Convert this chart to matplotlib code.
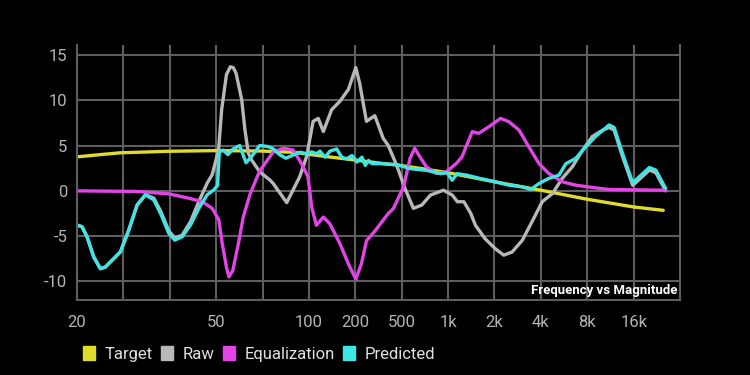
import numpy as np
import matplotlib
matplotlib.use('Agg')
import matplotlib.pyplot as plt
from matplotlib.patches import Patch
from matplotlib.ticker import FixedLocator, NullFormatter

plt.rcParams['font.family'] = ['Roboto', 'DejaVu Sans']
plt.rcParams['axes.unicode_minus'] = False

# frequency axis of the app: labelled stops, not evenly spaced in log
knot_hz = [20, 50, 100, 200, 500, 1000, 2000, 4000, 8000, 16000, 32000]
knot_pos = [0, 3, 5, 6, 7, 8, 9, 10, 11, 12, 13]
tick_hz = [20, 50, 100, 200, 500, 1000, 2000, 4000, 8000, 16000]
tick_labels = ['20', '50', '100', '200', '500', '1k', '2k', '4k', '8k', '16k']

target_hz = [20, 23.3, 26.6, 36.8, 50, 69.2, 88.9, 130, 200, 305, 500, 707, 1000, 2000,
             4000, 8000, 16000, 24900]
target_db = [3.75, 4.0, 4.2, 4.37, 4.44, 4.4, 4.26, 3.78, 3.4, 3.1, 2.78, 2.4, 2.0, 1.0,
             0.07, -0.93, -1.78, -2.15]

raw_hz = [20, 20.67, 21.36, 22.33, 23.33, 24.11, 25.19, 26.61, 28.12, 29.71, 31.38, 33.16,
          34.65, 36.6, 38.07, 39.96, 42.22, 44.6, 47.12, 48.7, 50.9, 52.1, 54.0, 55.6, 56.8,
          58.0, 60.5, 62.0, 63.6, 65.2, 69.2, 74.7, 76.6, 84.7, 93.3, 98.3, 106.4, 114.9,
          124.0, 140.4, 159.1, 180.3, 201.8, 217.7, 249.2, 293.9, 346.6, 383.3, 453, 525, 595,
          675, 768, 933, 1064, 1149, 1266, 1404, 1505, 1741, 2028, 2297, 2603, 3031, 3506,
          4084, 4757, 5502, 6408, 7464, 8634, 10056, 11082, 11956, 13545, 15779, 17387,
          20248, 22311, 25804]
raw_db = [-3.78, -3.96, -5.07, -7.3, -8.6, -8.4, -7.67, -6.74, -4.33, -1.56, -0.44, -0.8,
          -2.2, -4.4, -5.2, -4.9, -3.4, -1.19, 0.85, 1.78, 4.5, 9.0, 12.85, 13.7, 13.6, 13.0,
          10.07, 6.7, 4.15, 3.4, 2.1, 1.2, 0.8, -1.3, 1.55, 3.8, 7.67, 8.0, 6.55, 8.96, 9.9,
          11.2, 13.6, 11.9, 7.67, 8.3, 5.8, 5.0, 2.8, 0.26, -1.93, -1.57, -0.47, 0.07, -0.47,
          -1.2, -1.2, -2.5, -3.8, -5.3, -6.4, -7.1, -6.75, -5.46, -3.4, -1.2, -0.3, 1.37,
          2.66, 4.5, 6.0, 6.7, 7.0, 6.7, 3.8, 0.6, 1.25, 2.3, 2.0, 0.0]

eq_hz = [20, 29.7, 36.6, 41.7, 45.6, 48.7, 51.0, 52.3, 54.0, 55.0, 56.6, 59.0, 61.2, 64.5,
         69.2, 74.7, 76.6, 82.8, 88.9, 94.6, 99.3, 104.2, 111.7, 124.0, 136.6, 159.1, 180.3,
         201.8, 225.3, 249.2, 293.9, 383.3, 423.9, 514, 566.5, 607, 655, 722, 835, 973, 1133,
         1231, 1434, 1580, 1840, 2188, 2480, 2888, 3340, 3891, 4501, 5502, 6727, 8634, 11082,
         25804]
eq_db = [0.0, -0.07, -0.33, -0.81, -1.19, -1.93, -3.2, -5.8, -8.44, -9.5, -8.8, -5.85, -2.9,
         -0.3, 2.2, 3.78, 4.33, 4.7, 4.5, 3.0, 1.55, -1.78, -3.8, -2.9, -3.63, -5.85, -8.07,
         -9.74, -8.07, -5.5, -4.45, -2.5, -1.96, 0.44, 3.6, 4.7, 3.78, 2.67, 1.93, 2.1, 3.04,
         3.76, 6.53, 6.35, 7.08, 8.0, 7.64, 6.7, 4.87, 3.0, 1.92, 1.0, 0.63, 0.37, 0.15, 0.07]

pred_hz = [20, 20.67, 21.36, 22.33, 23.33, 24.11, 25.19, 26.61, 28.12, 29.71, 31.38, 33.16,
           34.65, 36.6, 38.07, 39.96, 42.22, 44.6, 47.12, 49.24, 50.5, 51.2, 52.6, 54.6, 56.6,
           59.6, 62.5, 65.2, 69.2, 73.4, 76.2, 80.3, 84.1, 93.5, 98.3, 104.1, 112.1, 117.8,
           127.0, 136.9, 151.3, 163.1, 175.7, 190.3, 206.7, 228.0, 243.3, 259.9, 277.4, 326.8,
           453.2, 566.8, 728.7, 891, 985, 1062, 1146, 1332, 1628, 2028, 2480, 3031, 3434,
           3891, 4501, 5241, 5815, 6727, 7837, 9063, 11082, 11956, 13545, 15779, 17387,
           20248, 22311, 25804]
pred_db = [-3.78, -3.96, -5.07, -7.3, -8.6, -8.4, -7.67, -6.74, -4.33, -1.56, -0.44, -1.0,
           -2.48, -4.7, -5.44, -5.07, -3.78, -1.93, -0.44, 0.11, 0.6, 4.3, 4.5, 4.0, 4.6, 5.0,
           3.1, 3.8, 5.0, 4.9, 4.7, 4.0, 3.6, 4.27, 4.1, 4.3, 4.1, 4.38, 3.72, 4.38, 4.63,
           3.72, 3.54, 3.9, 3.18, 3.72, 2.8, 3.36, 3.0, 3.0, 2.9, 2.45, 2.26, 1.9, 2.0, 1.17,
           1.9, 1.72, 1.35, 1.0, 0.63, 0.44, 0.15, 0.81, 1.37, 1.73, 3.0, 3.58, 4.87, 6.0,
           7.27, 7.0, 4.13, 0.89, 1.55, 2.58, 2.29, 0.26]

series = [('Target', target_hz, target_db, '#e0dc2c'),
          ('Raw', raw_hz, raw_db, '#b8b8b8'),
          ('Equalization', eq_hz, eq_db, '#e244e6'),
          ('Predicted', pred_hz, pred_db, '#3fe4e4')]

log_knots = np.log10(knot_hz)


def fwd(f):
    f = np.clip(np.asarray(f, dtype=float), 1e-3, None)
    return np.interp(np.log10(f), log_knots, knot_pos)


def inv(p):
    return 10 ** np.interp(np.asarray(p, dtype=float), knot_pos, log_knots)


grid_c = '#5e5e5e'
fig = plt.figure(figsize=(7.5, 3.75), dpi=100, facecolor='black')
ax = fig.add_axes([0.1027, 0.2, 0.804, 0.68], facecolor='black')
ax.set_xscale('function', functions=(fwd, inv))

for name, hz, db, col in series:
    ax.plot(hz, db, color=col, lw=2.4, solid_joinstyle='round', solid_capstyle='round')

ax.set_xlim(20, 32000)
ax.set_ylim(-12.05, 16.1)

ax.xaxis.set_major_locator(FixedLocator(tick_hz))
ax.set_xticklabels(tick_labels)
ax.xaxis.set_minor_locator(FixedLocator(inv([1, 2, 4])))
ax.xaxis.set_minor_formatter(NullFormatter())
ax.set_yticks([-10, -5, 0, 5, 10, 15])

ax.grid(which='both', color=grid_c, lw=1.5)
ax.set_axisbelow(True)
ax.tick_params(which='both', length=0, colors='#b4b4b4', labelsize=12)
ax.tick_params(axis='x', pad=11)
ax.tick_params(axis='y', pad=7)
for side in ['left', 'bottom', 'right']:
    ax.spines[side].set_color(grid_c)
    ax.spines[side].set_linewidth(1.5)
ax.spines['top'].set_visible(False)

ax.text(0.995, 0.01, 'Frequency vs Magnitude', transform=ax.transAxes, ha='right', va='bottom',
        color='white', fontsize=9.5, fontweight='bold')

handles = [Patch(facecolor=col, edgecolor=col, label=name) for name, hz, db, col in series]
fig.legend(handles=handles, loc='center left', bbox_to_anchor=(0.11, 0.056), ncol=4,
           frameon=False, fontsize=12, labelcolor='#e0e0e0', handlelength=0.75,
           handleheight=0.9, handletextpad=0.55, columnspacing=0.5, borderpad=0,
           borderaxespad=0)

fig.savefig('out.png', dpi=100, facecolor='black')
